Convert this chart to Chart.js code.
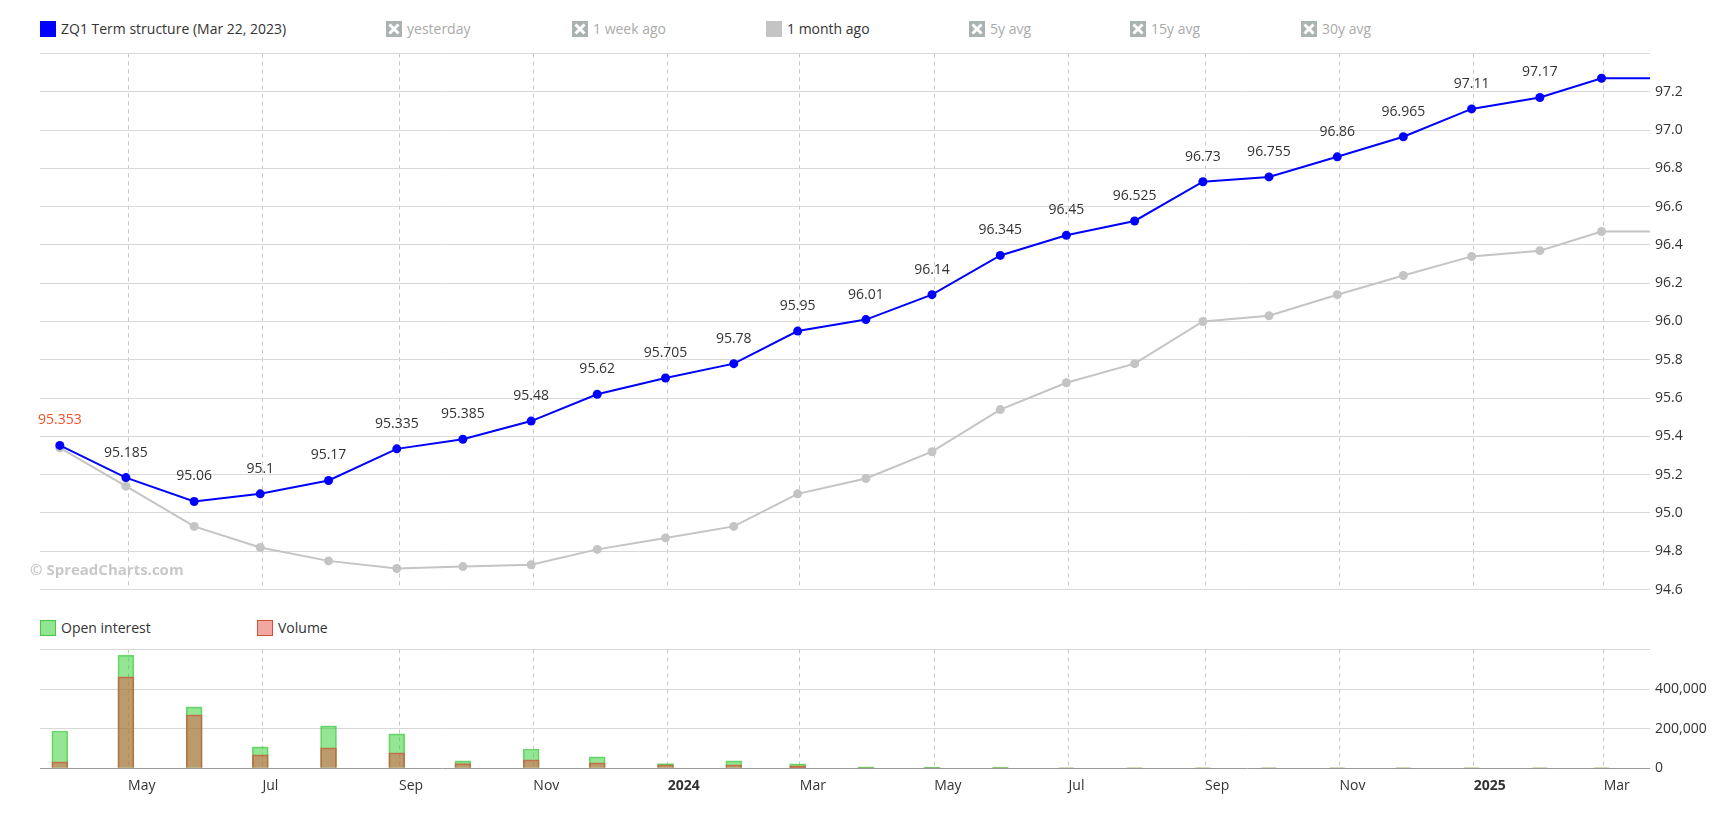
<!DOCTYPE html>
<html>
<head>
<meta charset="utf-8">
<title>ZQ1 Term structure</title>
<script src="https://cdn.jsdelivr.net/npm/chart.js@4.4.1/dist/chart.umd.min.js"></script>
<style>
    body { margin: 0; background: #fff; font-family: 'Open Sans', sans-serif; }
    #wrap { position: relative; width: 1733px; height: 813px; overflow: hidden; }
    .leg { position: absolute; font-size: 14px; line-height: 16px; color: #333; white-space: nowrap; }
    .leg.off { color: #aaa; }
    .box { position: absolute; width: 16px; height: 16px; box-sizing: border-box; }
    .box svg { display: block; }
    #mainBox { position: absolute; left: 0; top: 40px; }
    #barBox { position: absolute; left: 0; top: 636px; }
    #wm { position: absolute; left: 30px; top: 560px; font-size: 15px; font-weight: bold; color: #c8c8c8; line-height: 18px; }
</style>
</head>
<body>
<div id="wrap">
    <div id="legendTop"></div>
    <div id="legendBars"></div>
    <div id="mainBox"><canvas id="mainChart" width="1733" height="563"></canvas></div>
    <div id="barBox"><canvas id="barChart" width="1733" height="174"></canvas></div>
    <div id="wm">© SpreadCharts.com</div>
</div>
<script>
// contract expiries (month ends), Mar 2023 .. Feb 2025
const expiries = ['2023-03-31', '2023-04-30', '2023-05-31', '2023-06-30', '2023-07-31', '2023-08-31',
    '2023-09-30', '2023-10-31', '2023-11-30', '2023-12-31', '2024-01-31', '2024-02-29',
    '2024-03-31', '2024-04-30', '2024-05-31', '2024-06-30', '2024-07-31', '2024-08-31',
    '2024-09-30', '2024-10-31', '2024-11-30', '2024-12-31', '2025-01-31', '2025-02-28'];
const termToday = [95.353, 95.185, 95.06, 95.1, 95.17, 95.335, 95.385, 95.48, 95.62, 95.705, 95.78, 95.95,
    96.01, 96.14, 96.345, 96.45, 96.525, 96.73, 96.755, 96.86, 96.965, 97.11, 97.17, 97.27];
const termMonthAgo = [95.34, 95.14, 94.93, 94.82, 94.75, 94.71, 94.72, 94.73, 94.81, 94.87, 94.93, 95.10,
    95.18, 95.32, 95.54, 95.68, 95.78, 96.00, 96.03, 96.14, 96.24, 96.34, 96.37, 96.47];
const openInterest = [188000, 571000, 310000, 108000, 214000, 173000, 37000, 97000, 57000, 23000, 37000, 22000,
    6500, 6000, 5500, 1800, 1600, 1500, 1400, 1300, 1200, 1100, 1000, 900];
const volume = [32000, 461000, 269000, 67000, 103000, 77000, 23000, 42000, 27000, 17000, 17000, 12000,
    1500, 1200, 1000, 1500, 1400, 1300, 1200, 1100, 1000, 1000, 900, 800];
const xStart = '2023-03-22', xEnd = '2025-03-22';
const tickMonths = ['2023-05-01', '2023-07-01', '2023-09-01', '2023-11-01', '2024-01-01', '2024-03-01',
    '2024-05-01', '2024-07-01', '2024-09-01', '2024-11-01', '2025-01-01', '2025-03-01'];
const priceTicks = { min: 94.6, max: 97.4, step: 0.2 };
const barTicks = { min: 0, max: 600000, step: 200000 };

const topLegend = [
    { text: 'ZQ1 Term structure (Mar 22, 2023)', color: '#0000ff', x: 40, on: true },
    { text: 'yesterday', x: 386, on: false },
    { text: '1 week ago', x: 572, on: false },
    { text: '1 month ago', color: '#c4c4c4', x: 766, on: true },
    { text: '5y avg', x: 969, on: false },
    { text: '15y avg', x: 1130, on: false },
    { text: '30y avg', x: 1301, on: false }
];
const barLegend = [
    { text: 'Open interest', fill: '#90e690', border: '#4cc44c', x: 40 },
    { text: 'Volume', fill: '#f0a8a0', border: '#d4503c', x: 257 }
];

const monthNames = ['Jan', 'Feb', 'Mar', 'Apr', 'May', 'Jun', 'Jul', 'Aug', 'Sep', 'Oct', 'Nov', 'Dec'];
const toTime = s => Date.parse(s + 'T00:00:00Z');
const FONT = "'Open Sans', sans-serif";

function buildLegends() {
    const top = document.getElementById('legendTop');
    topLegend.forEach(item => {
        const icon = document.createElement('div');
        icon.className = 'box';
        icon.style.left = item.x + 'px';
        icon.style.top = '21px';
        if (item.on) {
            icon.style.background = item.color;
        } else {
            icon.style.background = '#aab2b2';
            icon.innerHTML = '<svg width="16" height="16"><path d="M3.5 3.5L12.5 12.5M12.5 3.5L3.5 12.5" stroke="#fff" stroke-width="3"/></svg>';
        }
        top.appendChild(icon);
        const label = document.createElement('div');
        label.className = 'leg' + (item.on ? '' : ' off');
        label.style.left = (item.x + 21) + 'px';
        label.style.top = '21px';
        label.textContent = item.text;
        top.appendChild(label);
    });
    const bars = document.getElementById('legendBars');
    barLegend.forEach(item => {
        const icon = document.createElement('div');
        icon.className = 'box';
        icon.style.left = item.x + 'px';
        icon.style.top = '620px';
        icon.style.background = item.fill;
        icon.style.border = '1px solid ' + item.border;
        bars.appendChild(icon);
        const label = document.createElement('div');
        label.className = 'leg';
        label.style.left = (item.x + 21) + 'px';
        label.style.top = '620px';
        label.textContent = item.text;
        bars.appendChild(label);
    });
}

// x axis shared by both panels: linear time (ms), ticks every second month
function xScale(showLabels) {
    return {
        type: 'linear',
        offset: false,
        min: toTime(xStart),
        max: toTime(xEnd),
        afterBuildTicks: scale => { scale.ticks = tickMonths.map(s => ({ value: toTime(s) })); },
        grid: { color: '#c8c8c8', drawTicks: false, offset: false },
        border: { display: false, dash: [4, 4] },
        ticks: {
            display: showLabels,
            autoSkip: false,
            maxRotation: 0,
            align: 'start',
            padding: 9,
            color: '#333',
            font: ctx => ({ family: FONT, size: 14, weight: (ctx.tick && new Date(ctx.tick.value).getUTCMonth() === 0) ? 'bold' : 'normal' }),
            callback: v => {
                const d = new Date(v);
                return d.getUTCMonth() === 0 ? String(d.getUTCFullYear()) : monthNames[d.getUTCMonth()];
            }
        }
    };
}

// value labels above the current curve
const pointLabels = {
    id: 'pointLabels',
    afterDatasetsDraw(chart) {
        const meta = chart.getDatasetMeta(0);
        const ctx = chart.ctx;
        ctx.save();
        ctx.font = '14px ' + FONT;
        ctx.textAlign = 'center';
        ctx.textBaseline = 'middle';
        for (let i = 0; i < termToday.length - 1; i++) {
            const pt = meta.data[i];
            ctx.fillStyle = i === 0 ? '#f5502a' : '#333';
            ctx.fillText(String(termToday[i]), pt.x, pt.y - 25);
        }
        ctx.restore();
    }
};

function initMainChart() {
    const xs = expiries.map(toTime);
    const lastX = toTime(xEnd);
    // curves run flat from the last contract to the right edge
    const today = xs.map((x, i) => ({ x, y: termToday[i] })).concat([{ x: lastX, y: termToday[termToday.length - 1] }]);
    const ago = xs.map((x, i) => ({ x, y: termMonthAgo[i] })).concat([{ x: lastX, y: termMonthAgo[termMonthAgo.length - 1] }]);
    const n = xs.length;
    new Chart(document.getElementById('mainChart'), {
        type: 'line',
        data: {
            datasets: [
                { label: 'ZQ1 Term structure (Mar 22, 2023)', data: today, order: 1,
                  borderColor: '#0000ff', backgroundColor: '#0000ff', borderWidth: 2,
                  pointRadius: ctx => ctx.dataIndex >= n ? 0 : 4.5, pointBorderWidth: 0 },
                { label: '1 month ago', data: ago, order: 2,
                  borderColor: '#c4c4c4', backgroundColor: '#c4c4c4', borderWidth: 2,
                  pointRadius: ctx => ctx.dataIndex >= n ? 0 : 4.5, pointBorderWidth: 0 }
            ]
        },
        options: {
            responsive: false, animation: false,
            layout: { padding: { top: 12, bottom: 10, left: 40, right: 0 } },
            plugins: { legend: { display: false }, tooltip: { enabled: false } },
            scales: {
                x: xScale(false),
                y: {
                    position: 'right',
                    min: priceTicks.min, max: priceTicks.max,
                    afterFit: s => { s.width = 83; },
                    grid: { color: '#d8d8d8', drawTicks: false },
                    border: { display: false },
                    ticks: {
                        stepSize: priceTicks.step, padding: 5, color: '#333',
                        font: { family: FONT, size: 14 },
                        callback: v => v > priceTicks.max - 0.05 ? '' : v.toFixed(1)
                    }
                }
            }
        },
        plugins: [pointLabels]
    });
}

function initBarChart() {
    const xs = expiries.map(toTime);
    new Chart(document.getElementById('barChart'), {
        type: 'bar',
        data: {
            datasets: [
                { label: 'Open interest', data: xs.map((x, i) => ({ x, y: openInterest[i] })), order: 2,
                  backgroundColor: 'rgba(50,205,50,0.52)', borderColor: 'rgba(60,200,60,0.7)', borderWidth: 1 },
                { label: 'Volume', data: xs.map((x, i) => ({ x, y: volume[i] })), order: 1,
                  backgroundColor: 'rgba(225,81,65,0.5)', borderColor: 'rgba(190,100,60,0.8)', borderWidth: 1 }
            ]
        },
        options: {
            responsive: false, animation: false,
            layout: { padding: { top: 10, bottom: 7, left: 40, right: 0 } },
            datasets: { bar: { barThickness: 16, grouped: false } },
            plugins: { legend: { display: false }, tooltip: { enabled: false } },
            scales: {
                x: xScale(true),
                y: {
                    position: 'right',
                    min: barTicks.min, max: barTicks.max,
                    afterFit: s => { s.width = 83; },
                    grid: { color: ctx => ctx.tick.value === 0 ? '#999' : '#d8d8d8', drawTicks: false },
                    border: { display: false },
                    ticks: {
                        stepSize: barTicks.step, padding: 5, color: '#333',
                        font: { family: FONT, size: 14 },
                        callback: v => v >= barTicks.max ? '' : v.toLocaleString('en-US')
                    }
                }
            }
        }
    });
}

buildLegends();
initMainChart();
initBarChart();
</script>
</body>
</html>
